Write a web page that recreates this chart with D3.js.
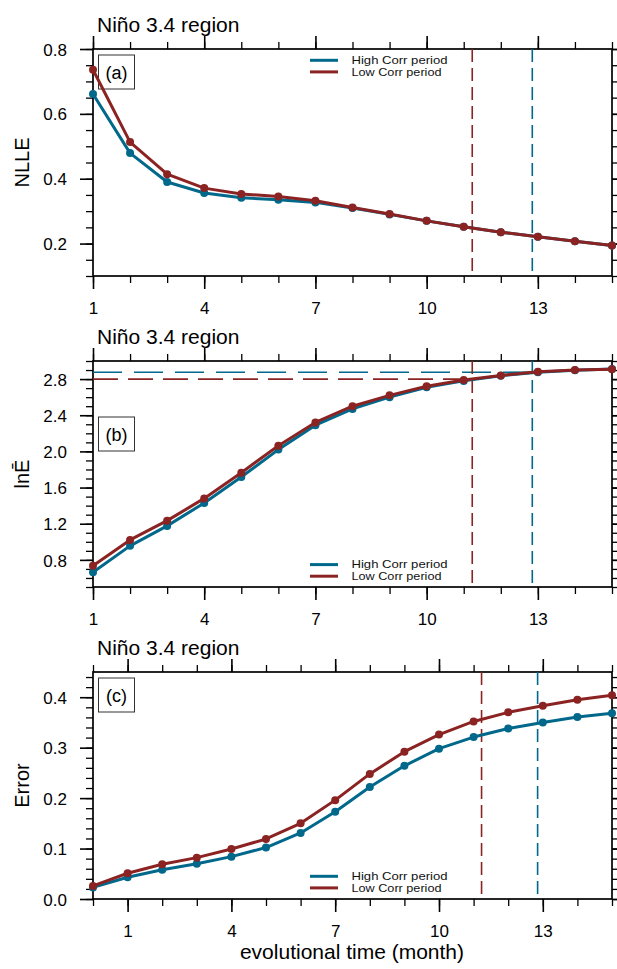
<!DOCTYPE html>
<html>
<head>
<meta charset="utf-8">
<script src="https://cdn.jsdelivr.net/npm/d3@7"></script>
<style>
  html, body { margin: 0; padding: 0; background: #fff; }
  svg { display: block; font-family: "Liberation Sans", Arial, Helvetica, sans-serif; }
</style>
</head>
<body>
<svg id="chart" width="617" height="969"></svg>
<script>
// Lead months for panels (a) and (b), and for panel (c)
const months = [1, 2, 3, 4, 5, 6, 7, 8, 9, 10, 11, 12, 13, 14, 15];
const errMonths = [0, 1, 2, 3, 4, 5, 6, 7, 8, 9, 10, 11, 12, 13, 14, 15];
const xTickLabels = [1, 4, 7, 10, 13];

// (a) nonlinear local Lyapunov exponent
const nlleHigh = [0.661, 0.479, 0.390, 0.356, 0.341, 0.335, 0.327, 0.310, 0.290, 0.270, 0.252, 0.235, 0.221, 0.207, 0.194];
const nlleLow  = [0.736, 0.513, 0.414, 0.371, 0.353, 0.345, 0.332, 0.311, 0.291, 0.270, 0.252, 0.235, 0.221, 0.207, 0.194];

// (b) log of mean error growth
const lnEHigh = [0.664, 0.955, 1.176, 1.430, 1.717, 2.020, 2.290, 2.470, 2.600, 2.710, 2.780, 2.838, 2.876, 2.898, 2.912];
const lnELow  = [0.734, 1.021, 1.234, 1.480, 1.765, 2.063, 2.320, 2.500, 2.620, 2.720, 2.790, 2.840, 2.880, 2.900, 2.910];

// (c) error
const errHigh = [0.023, 0.043, 0.058, 0.070, 0.084, 0.102, 0.131, 0.173, 0.222, 0.264, 0.298, 0.321, 0.338, 0.350, 0.361, 0.368];
const errLow  = [0.026, 0.051, 0.069, 0.082, 0.099, 0.119, 0.150, 0.196, 0.248, 0.292, 0.326, 0.352, 0.370, 0.383, 0.395, 0.404];

// Predictability limits (months) and saturation levels of lnE
const limitHigh = 12.85;
const limitLow = 11.23;
const satHigh = 2.876;
const satLow = 2.80;

const seriesNames = ["High Corr period", "Low Corr period"];
const colHigh = "#00688B";
const colLow = "#8B2323";

const svg = d3.select("#chart");
const left = 93, right = 612;

function panel(cfg) {
  const g = svg.append("g");
  const x = d3.scaleLinear().domain(cfg.xDomain).range([left, right]);
  const y = d3.scaleLinear().domain(cfg.yDomain).range([cfg.bottom, cfg.top]);

  const minorX = d3.range(cfg.xDomain[0], cfg.xDomain[1] + 0.001, 1);
  const minorY = d3.range(cfg.yDomain[0], cfg.yDomain[1] + 1e-9, cfg.yMinor).map(v => +v.toFixed(4));

  // axes on all four sides, ticks pointing outward
  const mk = (axisFn, scale, vals, size, fmt) =>
    axisFn(scale).tickValues(vals).tickSize(size).tickSizeOuter(0).tickFormat(fmt || (() => ""));

  const axes = [
    [d3.axisBottom, x, cfg.bottom, "x"],
    [d3.axisTop, x, cfg.top, "x"],
    [d3.axisLeft, y, left, "y"],
    [d3.axisRight, y, right, "y"]
  ];
  axes.forEach(([fn, sc, pos, dir]) => {
    const tr = dir === "x" ? `translate(0,${pos})` : `translate(${pos},0)`;
    const minorVals = dir === "x" ? minorX : minorY;
    const majorVals = dir === "x" ? xTickLabels : cfg.yMajor;
    g.append("g").attr("transform", tr).call(mk(fn, sc, minorVals, 7))
      .call(s => s.select(".domain").remove())
      .selectAll("line").attr("stroke", "#000").attr("stroke-width", 1.3);
    const labelled = (fn === d3.axisBottom) ? d => d :
                     (fn === d3.axisLeft) ? d => d.toFixed(cfg.yDec) : null;
    const ax = g.append("g").attr("transform", tr).call(mk(fn, sc, majorVals, 13, labelled));
    ax.select(".domain").remove();
    ax.selectAll("line").attr("stroke", "#000").attr("stroke-width", 1.6);
    ax.selectAll("text").attr("font-size", 17).attr("fill", "#000")
      .attr("font-family", "Liberation Sans, Arial, sans-serif");
    if (fn === d3.axisBottom) ax.selectAll("text").attr("dy", null).attr("y", 38);
    if (fn === d3.axisLeft) ax.selectAll("text").attr("x", -26).attr("dy", "0.36em");
  });

  // frame
  g.append("rect").attr("x", left).attr("y", cfg.top)
    .attr("width", right - left).attr("height", cfg.bottom - cfg.top)
    .attr("fill", "none").attr("stroke", "#000").attr("stroke-width", 1.7);

  // title
  g.append("text").attr("x", 97).attr("y", cfg.top - 17)
    .attr("font-size", 21).attr("fill", "#000").text("Niño 3.4 region");

  // y label
  const yc = (cfg.top + cfg.bottom) / 2;
  g.append("text").attr("transform", `translate(29,${yc}) rotate(-90)`)
    .attr("text-anchor", "middle").attr("font-size", 20).attr("fill", "#000").text(cfg.yLabel);

  // panel tag box
  const tag = g.append("g").attr("transform", `translate(98.5,${cfg.top + cfg.tagOffset})`);
  tag.append("rect").attr("width", 36).attr("height", 34)
    .attr("fill", "#fff").attr("stroke", "#333").attr("stroke-width", 1);
  tag.append("text").attr("x", 18).attr("y", 23.5).attr("text-anchor", "middle")
    .attr("font-size", 18).attr("fill", "#000").text(cfg.tag);

  // horizontal saturation lines
  (cfg.hlines || []).forEach(h => {
    g.append("line").attr("x1", left).attr("x2", x(h.to))
      .attr("y1", y(h.v)).attr("y2", y(h.v))
      .attr("stroke", h.c).attr("stroke-width", 1.6).attr("stroke-dasharray", h.dash);
  });
  // vertical predictability-limit lines
  [[limitLow, colLow], [limitHigh, colHigh]].forEach(([v, c]) => {
    g.append("line").attr("x1", x(v)).attr("x2", x(v))
      .attr("y1", cfg.top).attr("y2", cfg.bottom)
      .attr("stroke", c).attr("stroke-width", 1.6).attr("stroke-dasharray", "13,6");
  });

  // series
  const line = d3.line().x(d => x(d[0])).y(d => y(d[1]));
  [[cfg.high, colHigh], [cfg.low, colLow]].forEach(([vals, c]) => {
    const pts = cfg.xs.map((m, i) => [m, vals[i]]);
    g.append("path").datum(pts).attr("d", line)
      .attr("fill", "none").attr("stroke", c).attr("stroke-width", 3)
      .attr("stroke-linejoin", "round");
    g.selectAll(null).data(pts).enter().append("circle")
      .attr("cx", d => x(d[0])).attr("cy", d => y(d[1])).attr("r", 4).attr("fill", c);
  });

  // legend
  const lg = g.append("g");
  [[colHigh, 0], [colLow, 1]].forEach(([c, i]) => {
    const ly = cfg.legendY + i * 11.6;
    lg.append("line").attr("x1", 310).attr("x2", 338).attr("y1", ly).attr("y2", ly)
      .attr("stroke", c).attr("stroke-width", 3);
    lg.append("text").attr("x", 351.5).attr("y", ly + 3.8)
      .attr("font-size", 10.5).attr("fill", "#111")
      .attr("textLength", i === 0 ? 96 : 90).attr("lengthAdjust", "spacingAndGlyphs")
      .text(seriesNames[i]);
  });
}

panel({
  top: 49, bottom: 276, xDomain: [1, 15], yDomain: [0.1, 0.8],
  yMajor: [0.2, 0.4, 0.6, 0.8], yMinor: 0.05, yDec: 1,
  yLabel: "NLLE", tag: "(a)", tagOffset: 6,
  xs: months, high: nlleHigh, low: nlleLow, legendY: 60.3
});

panel({
  top: 361, bottom: 587, xDomain: [1, 15], yDomain: [0.5, 3.0],
  yMajor: [0.8, 1.2, 1.6, 2.0, 2.4, 2.8], yMinor: 0.1, yDec: 1,
  yLabel: "lnĒ", tag: "(b)", tagOffset: 56,
  xs: months, high: lnEHigh, low: lnELow, legendY: 564.6,
  hlines: [
    { v: satHigh, to: limitHigh, c: colHigh, dash: "29,12" },
    { v: satLow, to: limitLow, c: colLow, dash: "25,10" }
  ]
});

panel({
  top: 672, bottom: 899, xDomain: [0, 15], yDomain: [0, 0.45],
  yMajor: [0, 0.1, 0.2, 0.3, 0.4], yMinor: 0.02, yDec: 1,
  yLabel: "Error", tag: "(c)", tagOffset: 6,
  xs: errMonths, high: errHigh, low: errLow, legendY: 876.3
});

// shared x-axis title
svg.append("text").attr("x", 352).attr("y", 959).attr("text-anchor", "middle")
  .attr("font-size", 21).attr("fill", "#000").text("evolutional time (month)");
</script>
</body>
</html>
